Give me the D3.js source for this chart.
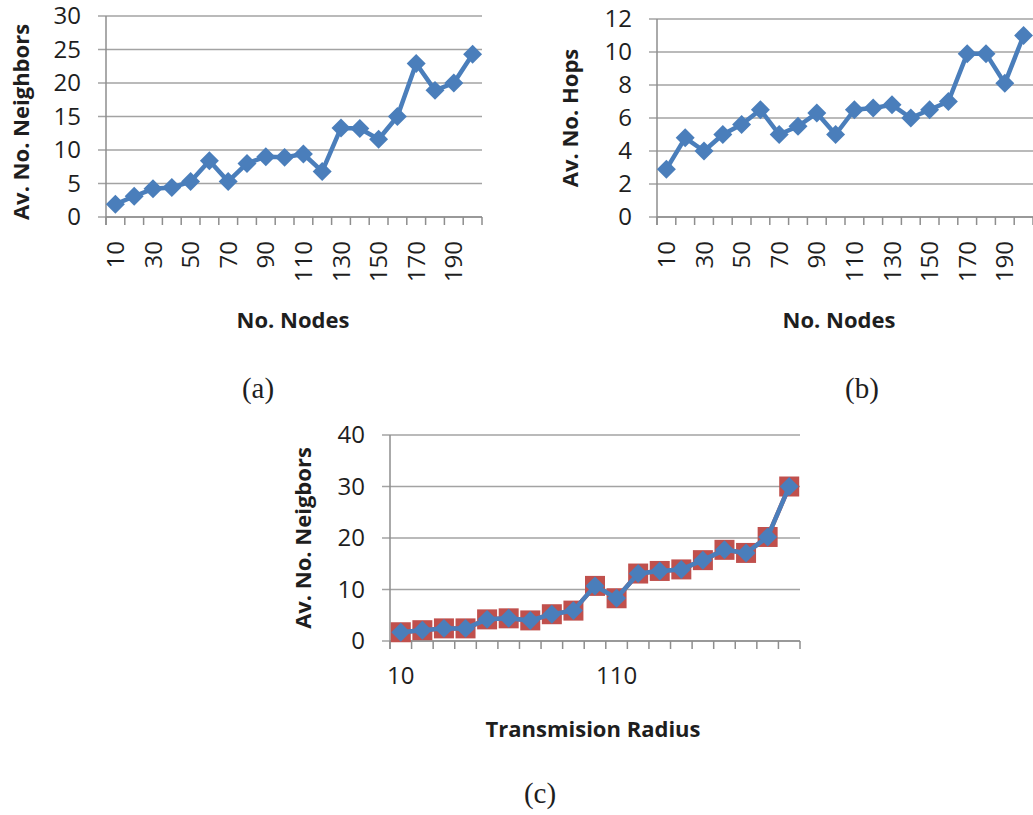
<!DOCTYPE html>
<html>
<head>
<meta charset="utf-8">
<script src="https://cdn.jsdelivr.net/npm/d3@7"></script>
<style>
body { margin: 0; background: #fff; }
svg text { font-family: "Open Sans", sans-serif; fill: #1e1e1e; }
</style>
</head>
<body>
<svg id="chart" width="1033" height="815"></svg>
<script>
// (a) and (b) share the same x categories
const nodeCounts = [10, 20, 30, 40, 50, 60, 70, 80, 90, 100, 110, 120, 130, 140, 150, 160, 170, 180, 190, 200]
const nodeLabels = [10, 30, 50, 70, 90, 110, 130, 150, 170, 190]
const avgNeighbors = [1.9, 3.1, 4.2, 4.4, 5.3, 8.4, 5.3, 8.0, 9.0, 8.9, 9.4, 6.8, 13.3, 13.2, 11.6, 15.0, 22.9, 18.9, 20.0, 24.3]
const avgHops = [2.9, 4.8, 4.0, 5.0, 5.6, 6.5, 5.0, 5.5, 6.3, 5.0, 6.5, 6.6, 6.8, 6.0, 6.5, 7.0, 9.9, 9.9, 8.1, 11.0]

// (c)
const radii = [10, 20, 30, 40, 50, 60, 70, 80, 90, 100, 110, 120, 130, 140, 150, 160, 170, 180, 190]
const radiusLabels = [10, 110]
const neighborsRed = [1.7, 2.1, 2.45, 2.45, 4.2, 4.4, 4.0, 5.2, 5.9, 10.7, 8.3, 13.1, 13.6, 13.9, 15.7, 17.7, 17.1, 20.2, 30.0]
const neighborsBlue = [1.7, 2.1, 2.45, 2.45, 4.2, 4.4, 4.0, 5.2, 5.9, 10.7, 8.3, 13.1, 13.6, 13.9, 15.7, 17.7, 17.1, 20.2, 30.0]

const yTicksA = [0, 5, 10, 15, 20, 25, 30]
const yTicksB = [0, 2, 4, 6, 8, 10, 12]
const yTicksC = [0, 10, 20, 30, 40]

const blue = '#4a7ebb'
const red = '#c0504d'
const svg = d3.select('#chart')

function drawPanel(p) {
    const g = svg.append('g')
    const x = d3.scaleBand().domain(p.cats).range([p.left, p.right]).paddingInner(0).paddingOuter(0)
    const y = d3.scaleLinear().domain([0, d3.max(p.yTicks)]).range([p.bottom, p.top])
    const bw = x.bandwidth()

    // horizontal gridlines (they also act as the y tick marks)
    g.selectAll('.grid').data(p.yTicks).enter().append('line')
        .attr('x1', p.left - 8).attr('x2', p.right)
        .attr('y1', d => y(d)).attr('y2', d => y(d))
        .attr('stroke', '#a3a3a3').attr('stroke-width', 1.5)

    // y axis labels
    const yAxis = d3.axisLeft(y).tickValues(p.yTicks).tickSize(0).tickPadding(25)
    const ya = g.append('g').attr('transform', `translate(${p.left},0)`).call(yAxis)
    ya.select('.domain').remove()
    ya.selectAll('text').attr('font-size', 24).attr('fill', '#1e1e1e')
        .style('font-family', '"Open Sans", sans-serif')

    // axis lines
    g.append('line').attr('x1', p.left).attr('x2', p.left).attr('y1', y(d3.max(p.yTicks))).attr('y2', p.bottom + 8)
        .attr('stroke', '#8e8e8e').attr('stroke-width', 1.5)
    g.append('line').attr('x1', p.left).attr('x2', p.right).attr('y1', p.bottom).attr('y2', p.bottom)
        .attr('stroke', '#8e8e8e').attr('stroke-width', 1.5)

    // x tick marks between categories
    const bounds = p.cats.map(c => x(c)).concat([x.range()[1]])
    g.selectAll('.xt').data(bounds).enter().append('line')
        .attr('x1', d => d).attr('x2', d => d)
        .attr('y1', p.bottom).attr('y2', p.bottom + 8)
        .attr('stroke', '#8e8e8e').attr('stroke-width', 1.5)

    // x labels
    const xAxis = d3.axisBottom(x).tickValues(p.xLabels).tickSize(0)
    const xa = g.append('g').attr('transform', `translate(0,${p.bottom})`).call(xAxis)
    xa.select('.domain').remove()
    const xt = xa.selectAll('text').attr('font-size', 24).attr('fill', '#1e1e1e')
        .style('font-family', '"Open Sans", sans-serif')
    if (p.rotate) {
        xt.attr('transform', 'rotate(-90)').attr('text-anchor', 'end')
            .attr('x', -24).attr('y', 0).attr('dy', '0.36em')
    } else {
        xt.attr('y', 26)
    }

    // series
    p.series.forEach(s => {
        const pts = p.cats.map((c, i) => ({c: c, v: s.values[i]}))
        const line = d3.line().x(d => x(d.c) + bw / 2).y(d => y(d.v))
        g.append('path').datum(pts).attr('d', line)
            .attr('fill', 'none').attr('stroke', s.color).attr('stroke-width', 4.5)
            .attr('stroke-linejoin', 'round')
        g.selectAll('.m' + s.color.slice(1)).data(pts).enter().append('path')
            .attr('d', d3.symbol(d3.symbolSquare, s.size))
            .attr('transform', d => `translate(${x(d.c) + bw / 2},${y(d.v)}) rotate(${s.rot})`)
            .attr('fill', s.color)
    })

    // titles
    g.append('text').attr('transform', `translate(${p.yTitleX},${p.yTitleY}) rotate(-90)`)
        .attr('text-anchor', 'middle').attr('dy', '0.35em')
        .attr('font-size', 22).attr('font-weight', 'bold').text(p.yTitle)
    g.append('text').attr('x', p.xTitleX).attr('y', p.xTitleY)
        .attr('text-anchor', 'middle').attr('font-size', 22).attr('font-weight', 'bold').text(p.xTitle)
    g.append('text').attr('x', p.letterX).attr('y', p.letterY)
        .attr('text-anchor', 'middle').attr('font-size', 29)
        .style('font-family', '"Liberation Serif", "Times New Roman", serif').text(p.letter)
}

drawPanel({
    cats: nodeCounts, xLabels: nodeLabels, yTicks: yTicksA, rotate: true,
    left: 106, right: 482, top: 16, bottom: 217,
    series: [{values: avgNeighbors, color: blue, size: 180, rot: 45}],
    yTitle: 'Av. No. Neighbors', yTitleX: 21, yTitleY: 122,
    xTitle: 'No. Nodes', xTitleX: 293, xTitleY: 328,
    letter: '(a)', letterX: 258, letterY: 398
})

drawPanel({
    cats: nodeCounts, xLabels: nodeLabels, yTicks: yTicksB, rotate: true,
    left: 657, right: 1033, top: 19, bottom: 217,
    series: [{values: avgHops, color: blue, size: 180, rot: 45}],
    yTitle: 'Av. No. Hops', yTitleX: 570, yTitleY: 118,
    xTitle: 'No. Nodes', xTitleX: 839, xTitleY: 328,
    letter: '(b)', letterX: 862, letterY: 398
})

drawPanel({
    cats: radii, xLabels: radiusLabels, yTicks: yTicksC, rotate: false,
    left: 390, right: 800, top: 435, bottom: 641,
    series: [
        {values: neighborsRed, color: red, size: 400, rot: 0},
        {values: neighborsBlue, color: blue, size: 180, rot: 45}
    ],
    yTitle: 'Av. No. Neigbors', yTitleX: 303, yTitleY: 538,
    xTitle: 'Transmision Radius', xTitleX: 593, xTitleY: 737,
    letter: '(c)', letterX: 540, letterY: 803
})
</script>
</body>
</html>
